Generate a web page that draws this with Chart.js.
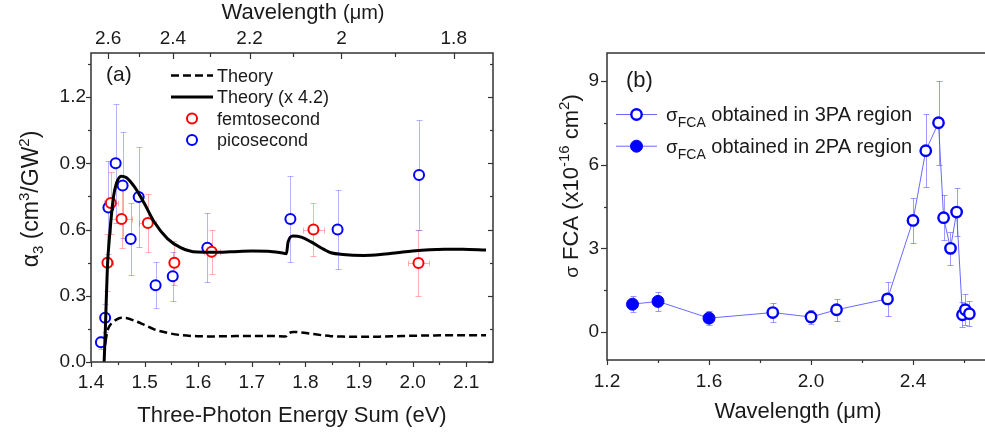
<!DOCTYPE html>
<html>
<head>
<meta charset="utf-8">
<script src="https://cdn.jsdelivr.net/npm/chart.js@4.4.0/dist/chart.umd.min.js"></script>
<style>
  html, body { margin: 0; padding: 0; background: #fff; overflow: hidden; width: 985px; height: 434px; }
  #wrapA { position: absolute; left: 0; top: 0; }
  #wrapB { position: absolute; left: 500px; top: 0; }
</style>
</head>
<body>
<div id="wrapA"><canvas id="chartA" width="500" height="434"></canvas></div>
<div id="wrapB"><canvas id="chartB" width="540" height="434"></canvas></div>
<script>
// ---- panel (a) data ----
const theoryE = [1.4245, 1.4269, 1.4306, 1.435, 1.4411, 1.4473, 1.4565, 1.4657, 1.4812, 1.4996,
  1.518, 1.5426, 1.5672, 1.598, 1.63, 1.66, 1.7, 1.73, 1.7616, 1.7646, 1.7677, 1.7769, 1.7923,
  1.8107, 1.8354, 1.8476, 1.87, 1.909, 1.94, 1.9707, 2.0, 2.032, 2.06, 2.0937, 2.137];
const theoryScaled = [0, 0.159, 0.43, 0.58, 0.733, 0.808, 0.842, 0.836, 0.793, 0.718,
  0.634, 0.559, 0.518, 0.498, 0.497, 0.499, 0.503, 0.502, 0.492, 0.491, 0.544, 0.571, 0.566,
  0.544, 0.509, 0.495, 0.487, 0.483, 0.487, 0.495, 0.503, 0.509, 0.511, 0.511, 0.507];
const theoryRaw = [null, 0.09, 0.14, 0.165, 0.18, 0.192, 0.2, 0.199, 0.187, 0.168,
  0.148, 0.132, 0.122, 0.117, 0.116, 0.117, 0.118, 0.118, 0.116, 0.118, 0.128, 0.136, 0.134,
  0.128, 0.12, 0.117, 0.115, 0.114, 0.115, 0.117, 0.119, 0.12, 0.121, 0.121, 0.121];

const femtoE = [1.4306, 1.437, 1.457, 1.506, 1.5555, 1.625, 1.815, 2.011];
const femtoA = [0.45, 0.72, 0.648, 0.63, 0.45, 0.50, 0.60, 0.449];
const femtoErrY = [0.13, 0.14, 0.13, 0.13, 0.1, 0.1, 0.12, 0.15];
const femtoErrX = [0.01, 0.013, 0.019, 0.016, 0.006, 0.015, 0.02, 0.02];

const picoE = [1.4185, 1.4264, 1.4325, 1.446, 1.459, 1.474, 1.489, 1.5205, 1.5525, 1.617, 1.772, 1.86, 2.012];
const picoA = [0.09, 0.2, 0.70, 0.90, 0.80, 0.557, 0.748, 0.348, 0.388, 0.518, 0.648, 0.60, 0.847];
const picoErrY = [0.03, 0.064, 0.21, 0.27, 0.24, 0.165, 0.225, 0.105, 0.11, 0.155, 0.195, 0.18, 0.25];

const eTicks = [1.4, 1.5, 1.6, 1.7, 1.8, 1.9, 2.0, 2.1];
const eMinor = [1.45, 1.55, 1.65, 1.75, 1.85, 1.95, 2.05];
const aTicks = [0, 0.3, 0.6, 0.9, 1.2];
const aMinor = [0.15, 0.45, 0.75, 1.05, 1.35];
const wlTicks = [2.6, 2.4, 2.2, 2.0, 1.8];
const wlMinor = [2.5, 2.3, 2.1, 1.9];
// where a wavelength (um) sits on the energy axis, as the top axis is laid out
const wlToE = l => 3.772 / l - 0.0188;
const eToWl = e => 3.772 / (e + 0.0188);

// ---- panel (b) data ----
const lam2PA = [1.3, 1.4, 1.6];
const sig2PA = [1.0, 1.1, 0.5];
const err2PA = [0.29, 0.35, 0.25];
const lam3PA = [1.85, 2.0, 2.1, 2.3, 2.4, 2.45, 2.5, 2.52, 2.547, 2.571, 2.594, 2.605, 2.621];
const sig3PA = [0.7, 0.54, 0.8, 1.19, 4.0, 6.5, 7.5, 4.1, 3.0, 4.3, 0.62, 0.8, 0.66];
const err3PA = [0.35, 0.25, 0.4, 0.6, 0.8, 1.3, 1.5, 0.8, 0.6, 0.85, 0.45, 0.55, 0.45];

const lamTicks = [1.2, 1.6, 2.0, 2.4, 2.8];
const lamMinor = [1.4, 1.8, 2.2, 2.6];
const sigTicks = [0, 3, 6, 9];
const sigMinor = [1.5, 4.5, 7.5];

const FONT = 'Liberation Sans, Arial, sans-serif';
const INK = '#1a1a1a';
const FRAME = '#333';

const pts = (xs, ys) => xs.map((x, i) => ({ x: x, y: ys[i] }));

// error bars drawn under the markers, from the dataset's errY / errX arrays
const errorBars = {
  id: 'errorBars',
  beforeDatasetsDraw(chart) {
    const ctx = chart.ctx;
    const xs = chart.scales.x, ys = chart.scales.y;
    chart.data.datasets.forEach(ds => {
      if (!ds.errY) return;
      ctx.save();
      ctx.strokeStyle = ds.errColor;
      ctx.lineWidth = 1;
      const seg = (x1, y1, x2, y2) => { ctx.beginPath(); ctx.moveTo(x1, y1); ctx.lineTo(x2, y2); ctx.stroke(); };
      ds.data.forEach((p, j) => {
        const px = Math.round(xs.getPixelForValue(p.x)) + 0.5;
        const py = Math.round(ys.getPixelForValue(p.y)) + 0.5;
        const t = Math.round(ys.getPixelForValue(p.y + ds.errY[j])) + 0.5;
        const b = Math.round(ys.getPixelForValue(p.y - ds.errY[j])) + 0.5;
        seg(px, t, px, b);
        seg(px - 3, t, px + 3, t);
        seg(px - 3, b, px + 3, b);
        if (ds.errX) {
          const l = Math.round(xs.getPixelForValue(p.x - ds.errX[j])) + 0.5;
          const r = Math.round(xs.getPixelForValue(p.x + ds.errX[j])) + 0.5;
          seg(l, py, r, py);
          seg(l, py - 3, l, py + 3);
          seg(r, py - 3, r, py + 3);
        }
      });
      ctx.restore();
    });
  }
};

// text made of pieces with their own size and offset (sub/superscripts)
function rich(ctx, segs, x, y, align, rot) {
  ctx.save();
  ctx.translate(x, y);
  if (rot) ctx.rotate(rot);
  const widths = segs.map(s => { ctx.font = s[1] + 'px ' + FONT; return ctx.measureText(s[0]).width; });
  let cx = align === 'center' ? -widths.reduce((a, b) => a + b, 0) / 2 : 0;
  ctx.fillStyle = INK;
  ctx.textBaseline = 'alphabetic';
  segs.forEach((s, i) => {
    ctx.font = s[1] + 'px ' + FONT;
    ctx.fillText(s[0], cx, s[2] || 0);
    cx += widths[i];
  });
  ctx.restore();
}

function drawMarker(ctx, ds, x, y) {
  ctx.beginPath();
  ctx.arc(x, y, ds.pointRadius, 0, Math.PI * 2);
  ctx.fillStyle = ds.backgroundColor;
  ctx.fill();
  ctx.lineWidth = ds.borderWidth;
  ctx.strokeStyle = ds.borderColor;
  ctx.stroke();
}

// frame, minor/major tick marks, titles and legend
const decor = {
  id: 'decor',
  afterDraw(chart, args, opts) {
    const ctx = chart.ctx, a = chart.chartArea;
    ctx.save();
    ctx.strokeStyle = FRAME;
    ctx.lineWidth = 1.5;
    ctx.strokeRect(a.left, a.top, a.right - a.left, a.bottom - a.top);
    ctx.lineWidth = 1.2;
    opts.marks.forEach(m => {
      const s = chart.scales[m.scale];
      m.values.forEach(v => {
        const p = Math.round(s.getPixelForValue(v)) + 0.5;
        ctx.beginPath();
        if (m.side === 'bottom') { ctx.moveTo(p, a.bottom); ctx.lineTo(p, a.bottom + m.len); }
        else if (m.side === 'top') { ctx.moveTo(p, a.top); ctx.lineTo(p, a.top - m.len); }
        else if (m.side === 'left') { ctx.moveTo(a.left, p); ctx.lineTo(a.left - m.len, p); }
        else { ctx.moveTo(a.right, p); ctx.lineTo(a.right + m.len, p); }
        ctx.stroke();
      });
    });
    ctx.restore();

    opts.texts.forEach(t => rich(ctx, t.segs, t.x, t.y, t.align, t.rot));

    const lg = opts.legend;
    lg.items.forEach((it, i) => {
      const ds = chart.data.datasets[it.ds];
      const cy = lg.y + i * lg.row;
      ctx.save();
      if (it.line) {
        ctx.beginPath();
        ctx.moveTo(lg.x0, cy);
        ctx.lineTo(lg.x1, cy);
        ctx.setLineDash(it.line.borderDash || []);
        ctx.lineWidth = it.line.borderWidth;
        ctx.strokeStyle = it.line.borderColor;
        ctx.stroke();
        ctx.setLineDash([]);
      }
      if (ds.pointRadius) drawMarker(ctx, ds, (lg.x0 + lg.x1) / 2, cy);
      ctx.restore();
      rich(ctx, it.segs, lg.tx, cy + lg.dy, 'left');
    });
  }
};

const fixedTicks = vals => s => { s.ticks = vals.map(v => ({ value: v })); };
const tickFont = { family: FONT, size: 19 };
const noGrid = { display: false, drawTicks: false };

// ---------------- panel (a) ----------------
const dsTheoryX = { label: 'Theory (x 4.2)', data: pts(theoryE, theoryScaled), showLine: true,
  borderColor: '#000', borderWidth: 3, pointRadius: 0, cubicInterpolationMode: 'monotone', fill: false };
const dsTheory = { label: 'Theory', data: pts(theoryE, theoryRaw), showLine: true,
  borderColor: '#000', borderWidth: 2.5, borderDash: [8, 4], pointRadius: 0,
  cubicInterpolationMode: 'monotone', fill: false };

new Chart(document.getElementById('chartA'), {
  type: 'scatter',
  data: {
    datasets: [
      dsTheoryX,
      dsTheory,
      { label: 'femtosecond', data: pts(femtoE, femtoA), errY: femtoErrY, errX: femtoErrX,
        errColor: 'rgba(255,60,60,0.4)', pointRadius: 5, borderWidth: 2,
        borderColor: '#ff0000', backgroundColor: '#fff' },
      { label: 'picosecond', data: pts(picoE, picoA), errY: picoErrY,
        errColor: 'rgba(70,70,255,0.4)', pointRadius: 5, borderWidth: 2,
        borderColor: '#0000ff', backgroundColor: '#fff' }
    ]
  },
  options: {
    responsive: false,
    animation: false,
    layout: { padding: { left: 0, right: 3, top: 0, bottom: 0 } },
    scales: {
      x: {
        type: 'linear', position: 'bottom', min: 1.4, max: 2.15,
        afterBuildTicks: fixedTicks(eTicks),
        afterFit: s => { s.height = 72; },
        grid: noGrid, border: { display: false },
        ticks: { font: tickFont, color: INK, padding: 9, autoSkip: false, maxRotation: 0,
          callback: v => v.toFixed(1) }
      },
      x2: {
        type: 'linear', position: 'top', min: 1.4, max: 2.15,
        afterBuildTicks: fixedTicks(wlTicks.map(wlToE)),
        afterFit: s => { s.height = 53; },
        grid: noGrid, border: { display: false },
        ticks: { font: tickFont, color: INK, padding: 3, autoSkip: false, maxRotation: 0,
          callback: v => String(+eToWl(v).toFixed(1)) }
      },
      y: {
        type: 'linear', position: 'left', min: 0, max: 1.4,
        afterBuildTicks: fixedTicks(aTicks),
        afterFit: s => { s.width = 91; },
        grid: noGrid, border: { display: false },
        ticks: { font: tickFont, color: INK, padding: 5, callback: v => v.toFixed(1) }
      }
    },
    plugins: {
      legend: { display: false },
      tooltip: { enabled: false },
      decor: {
        marks: [
          { scale: 'x', side: 'bottom', values: eTicks, len: 5 },
          { scale: 'x', side: 'bottom', values: eMinor, len: 3 },
          { scale: 'x', side: 'top', values: wlTicks.map(wlToE), len: -6 },
          { scale: 'x', side: 'top', values: wlMinor.map(wlToE), len: -4 },
          { scale: 'y', side: 'left', values: aTicks, len: 5 },
          { scale: 'y', side: 'left', values: aMinor, len: 3 },
          { scale: 'y', side: 'right', values: aTicks, len: -5 },
          { scale: 'y', side: 'right', values: aMinor, len: -3 }
        ],
        texts: [
          { segs: [['Wavelength ', 22], ['(\u03bcm)', 20]], x: 303, y: 19, align: 'center' },
          { segs: [['Three-Photon Energy Sum (eV)', 22]], x: 292, y: 422, align: 'center' },
          { segs: [['\u03b1', 23], ['3', 15, 5], [' (cm', 23], ['3', 15, -9], ['/GW', 23], ['2', 15, -9], [')', 23]],
            x: 38, y: 199, align: 'center', rot: -Math.PI / 2 },
          { segs: [['(a)', 21]], x: 106, y: 81, align: 'left' }
        ],
        legend: {
          x0: 171, x1: 213, tx: 217, y: 75.5, row: 21.5, dy: 6.3,
          items: [
            { ds: 1, line: dsTheory, segs: [['Theory', 18]] },
            { ds: 0, line: dsTheoryX, segs: [['Theory (x 4.2)', 18]] },
            { ds: 2, segs: [['femtosecond', 18]] },
            { ds: 3, segs: [['picosecond', 18]] }
          ]
        }
      }
    }
  },
  plugins: [errorBars, decor]
});

// ---------------- panel (b) ----------------
const allLam = lam2PA.concat(lam3PA);
const allSig = sig2PA.concat(sig3PA);
const dsLink = { label: 'link', data: pts(allLam, allSig), showLine: true,
  borderColor: 'rgba(80,80,255,0.85)', borderWidth: 1, pointRadius: 0, tension: 0 };

new Chart(document.getElementById('chartB'), {
  type: 'scatter',
  data: {
    datasets: [
      { label: 'sigma FCA obtained in 3PA region', data: pts(lam3PA, sig3PA), errY: err3PA,
        errColor: 'rgba(90,90,255,0.6)', pointRadius: 5.2, borderWidth: 2.4,
        borderColor: '#0000ff', backgroundColor: '#fff' },
      { label: 'sigma FCA obtained in 2PA region', data: pts(lam2PA, sig2PA), errY: err2PA,
        errColor: 'rgba(90,90,255,0.6)', pointRadius: 6, borderWidth: 1,
        borderColor: '#0000ff', backgroundColor: '#0000ff' },
      dsLink
    ]
  },
  options: {
    responsive: false,
    animation: false,
    layout: { padding: { left: 0, right: 25, top: 53, bottom: 0 } },
    scales: {
      x: {
        type: 'linear', position: 'bottom', min: 1.2, max: 2.8,
        afterBuildTicks: fixedTicks(lamTicks),
        afterFit: s => { s.height = 74; },
        grid: noGrid, border: { display: false },
        ticks: { font: tickFont, color: INK, padding: 10, autoSkip: false, maxRotation: 0,
          callback: v => v.toFixed(1) }
      },
      y: {
        type: 'linear', position: 'left', min: -1, max: 10,
        afterBuildTicks: fixedTicks(sigTicks),
        afterFit: s => { s.width = 107; },
        grid: noGrid, border: { display: false },
        ticks: { font: tickFont, color: INK, padding: 8, callback: v => String(v) }
      }
    },
    plugins: {
      legend: { display: false },
      tooltip: { enabled: false },
      decor: {
        marks: [
          { scale: 'x', side: 'bottom', values: lamTicks, len: 5 },
          { scale: 'x', side: 'bottom', values: lamMinor, len: 3 },
          { scale: 'y', side: 'left', values: sigTicks, len: 6 },
          { scale: 'y', side: 'left', values: sigMinor, len: 3 }
        ],
        texts: [
          { segs: [['Wavelength (\u03bcm)', 22]], x: 298, y: 418, align: 'center' },
          { segs: [['\u03c3', 19], [' FCA (x10', 22], ['-16', 15, -9], [' cm', 22], ['2', 15, -9], [')', 22]],
            x: 78, y: 186, align: 'center', rot: -Math.PI / 2 },
          { segs: [['(b)', 22]], x: 126, y: 87, align: 'left' }
        ],
        legend: {
          x0: 116, x1: 157, tx: 166, y: 114.5, row: 31.7, dy: 6.3,
          items: [
            { ds: 0, line: dsLink, segs: [['\u03c3', 19], ['FCA', 14, 6], [' obtained in 3PA region', 20]] },
            { ds: 1, line: dsLink, segs: [['\u03c3', 19], ['FCA', 14, 6], [' obtained in 2PA region', 20]] }
          ]
        }
      }
    }
  },
  plugins: [errorBars, decor]
});
</script>
</body>
</html>
